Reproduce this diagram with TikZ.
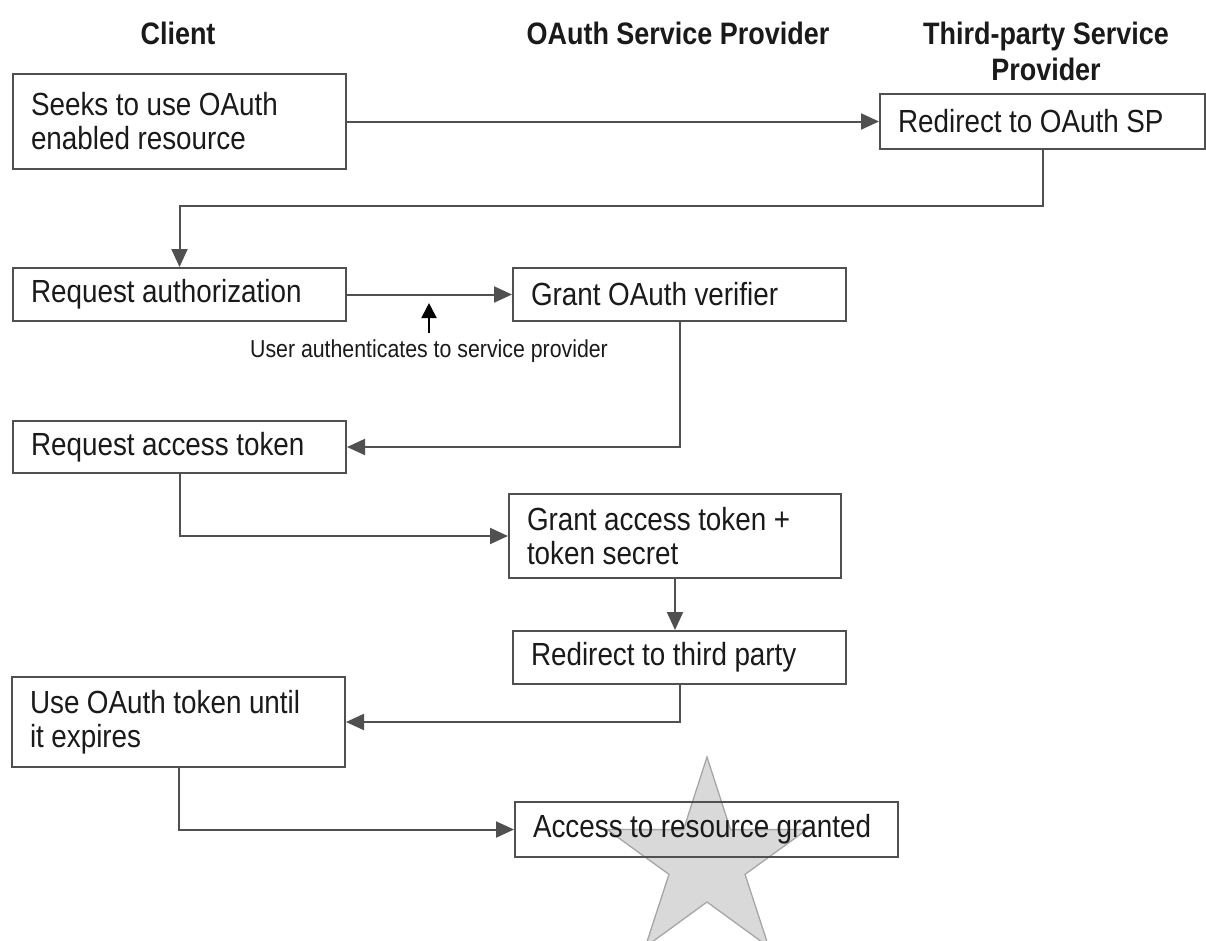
\documentclass[tikz,border=0pt]{standalone}
\usepackage{fontspec}
\setmainfont{Liberation Sans}[FakeStretch=0.87]
\usetikzlibrary{arrows.meta}
\definecolor{boxline}{HTML}{505050}
\definecolor{txt}{HTML}{1A1A1A}
\definecolor{starfill}{HTML}{D9D9D9}
\definecolor{staredge}{HTML}{A6A6A6}
\newcommand\bodyfnt{\fontsize{32}{34}\selectfont}
\newcommand\bodyspc{\spaceskip 7.5pt plus 1pt minus 1pt\relax\xspaceskip 7.5pt\relax}
\newcommand\headfnt{\fontsize{31}{36}\selectfont\bfseries}
\newcommand\smallfnt{\fontsize{24.5}{28}\selectfont}
\begin{document}
\begin{tikzpicture}[x=1pt,y=-1pt,
  every node/.style={text=txt},
  stepbox/.style={draw=boxline, line width=2pt, anchor=north west, align=left,
    inner xsep=18pt, inner ysep=0pt, font=\bodyfnt, execute at begin node=\bodyspc},
  header/.style={font=\headfnt, inner sep=0pt},
  conn/.style={draw=boxline, line width=2pt, -{Triangle[length=18pt,width=16pt]}},
  uparrow/.style={draw=black, line width=2pt, -{Triangle[length=15pt,width=15pt]}},
  starsty/.style={fill=starfill, draw=staredge, line width=1.3pt}
]
\fill[white] (0,0) rectangle (1206,940);
\useasboundingbox (0,0) rectangle (1206,940);

% star behind
\draw[starsty, shift={(707,862)}] (270:105) -- (306:40) -- (342:105) -- (18:40) -- (54:105)
  -- (90:40) -- (126:105) -- (162:40) -- (198:105) -- (234:40) -- cycle;

% headers
\node[header, anchor=base] (hclient) at (178,44) {Client};
\node[header, anchor=base] (hoauth) at (678,44) {OAuth Service Provider};
\node[header, anchor=base] (hthird) at (1046,44) {Third-party Service};
\node[header, anchor=base] (hthirdb) at (1046,80) {Provider};

% boxes
\node[stepbox, minimum width=333pt, minimum height=95pt, text width=297pt] (seeks) at (12,73)
  {Seeks to use OAuth\\enabled resource};
\node[stepbox, minimum width=325pt, minimum height=55pt, text width=289pt] (redir) at (879,93)
  {Redirect to OAuth SP};
\node[stepbox, minimum width=333pt, minimum height=53pt, text width=297pt] (reqauth) at (12,267)
  {Request authorization};
\node[stepbox, minimum width=333pt, minimum height=53pt, text width=297pt] (grantver) at (512,267)
  {Grant OAuth verifier};
\node[stepbox, minimum width=333pt, minimum height=52pt, text width=297pt] (reqtok) at (12,420)
  {Request access token};
\node[stepbox, minimum width=332pt, minimum height=84pt, text width=296pt] (granttok) at (508,493)
  {Grant access token +\\token secret};
\node[stepbox, minimum width=333pt, minimum height=53pt, text width=297pt] (redir3) at (512,630)
  {Redirect to third party};
\node[stepbox, minimum width=333pt, minimum height=90pt, text width=297pt] (usetok) at (11,676)
  {Use OAuth token until\\it expires};
\node[stepbox, minimum width=383pt, minimum height=55pt, text width=347pt] (access) at (514,801)
  {Access to resource granted};

% label
\node[font=\smallfnt, anchor=base, inner sep=0pt] (ulabel) at (429,357)
  {User authenticates to service provider};

% connectors
\draw[conn] (seeks.east |- redir.west) -- (redir.west);
\draw[conn] (redir.south) -- ++(0,56) -| (reqauth.north);
\draw[conn] (reqauth.east) -- (grantver.west);
\draw[uparrow] ([yshift=6pt]ulabel.north) -- ++(0,-30);
\draw[conn] (grantver.south) |- (reqtok.east);
\draw[conn] (reqtok.south) |- (granttok.west);
\draw[conn] (granttok.south) -- (granttok.south |- redir3.north);
\draw[conn] (redir3.south) |- (usetok.east);
\draw[conn] (usetok.south) |- (access.west);
\end{tikzpicture}
\end{document}
